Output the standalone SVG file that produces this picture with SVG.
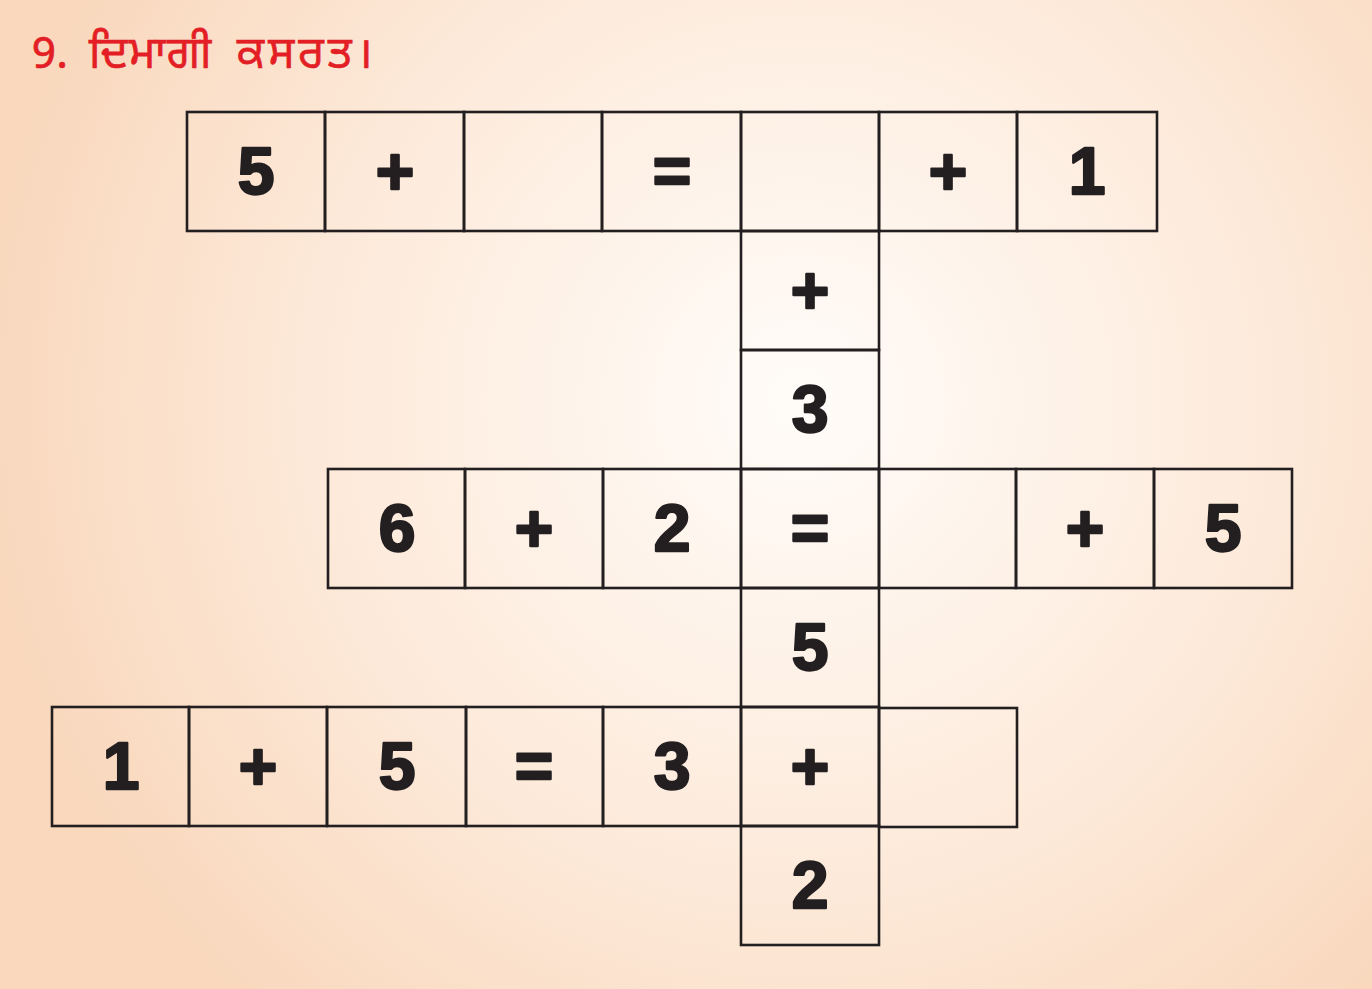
<svg xmlns="http://www.w3.org/2000/svg" width="1372" height="989" viewBox="0 0 1372 989">
<defs>
<radialGradient id="bg" cx="800" cy="400" r="820" gradientUnits="userSpaceOnUse">
<stop offset="0" stop-color="#fffcf9"/>
<stop offset="0.55" stop-color="#fdebdc"/>
<stop offset="1" stop-color="#f9d8bd"/>
</radialGradient>
<style>
.cell{fill:none;stroke:#231f20;stroke-width:2.6}
.sym{font-family:"Liberation Sans",Arial,sans-serif;font-weight:bold;font-size:66px;text-anchor:middle;fill:#231f20;stroke:#231f20;stroke-width:2.4;stroke-linejoin:round}
.title{font-family:"Noto Sans Gurmukhi","Lohit Gurmukhi","Noto Sans",sans-serif;font-size:44px;fill:#e31e25;stroke:#e31e25;stroke-width:0.7}
</style>
</defs>
<rect x="0" y="0" width="1372" height="989" fill="url(#bg)"/>
<text id="title" class="title" y="68"><tspan x="32">9.</tspan> <tspan x="89" letter-spacing="1.5">ਦਿਮਾਗੀ</tspan> <tspan x="237" letter-spacing="4">ਕਸਰਤ।</tspan></text>

<g id="row1">
<g id="r1c1"><rect class="cell" x="187" y="112" width="138" height="119"/><text class="sym" x="256" y="194">5</text></g>
<g id="r1c2"><rect class="cell" x="325" y="112" width="139" height="119"/><text class="sym" x="395" y="194">+</text></g>
<g id="r1c3"><rect class="cell" x="464" y="112" width="138" height="119"/></g>
<g id="r1c4"><rect class="cell" x="602" y="112" width="139" height="119"/><text class="sym" x="672" y="194">=</text></g>
<g id="r1c5"><rect class="cell" x="741" y="112" width="138" height="119"/></g>
<g id="r1c6"><rect class="cell" x="879" y="112" width="138" height="119"/><text class="sym" x="948" y="194">+</text></g>
<g id="r1c7"><rect class="cell" x="1017" y="112" width="140" height="119"/><text class="sym" x="1087" y="194">1</text></g>
</g>

<g id="col">
<g id="c2"><rect class="cell" x="741" y="231" width="138" height="119"/><text class="sym" x="810" y="313">+</text></g>
<g id="c3"><rect class="cell" x="741" y="350" width="138" height="119"/><text class="sym" x="810" y="432">3</text></g>
</g>

<g id="row3">
<g id="r3c1"><rect class="cell" x="328" y="469" width="137" height="119"/><text class="sym" x="397" y="551">6</text></g>
<g id="r3c2"><rect class="cell" x="465" y="469" width="138" height="119"/><text class="sym" x="534" y="551">+</text></g>
<g id="r3c3"><rect class="cell" x="603" y="469" width="138" height="119"/><text class="sym" x="672" y="551">2</text></g>
<g id="r3c4"><rect class="cell" x="741" y="469" width="138" height="119"/><text class="sym" x="810" y="551">=</text></g>
<g id="r3c5"><rect class="cell" x="879" y="469" width="137" height="119"/></g>
<g id="r3c6"><rect class="cell" x="1016" y="469" width="138" height="119"/><text class="sym" x="1085" y="551">+</text></g>
<g id="r3c7"><rect class="cell" x="1154" y="469" width="138" height="119"/><text class="sym" x="1223" y="551">5</text></g>
</g>

<g id="c4"><rect class="cell" x="741" y="588" width="138" height="119"/><text class="sym" x="810" y="670">5</text></g>

<g id="row5">
<g id="r5c1"><rect class="cell" x="52" y="707" width="137" height="119"/><text class="sym" x="121" y="789">1</text></g>
<g id="r5c2"><rect class="cell" x="189" y="707" width="138" height="119"/><text class="sym" x="258" y="789">+</text></g>
<g id="r5c3"><rect class="cell" x="327" y="707" width="139" height="119"/><text class="sym" x="397" y="789">5</text></g>
<g id="r5c4"><rect class="cell" x="466" y="707" width="137" height="119"/><text class="sym" x="534" y="789">=</text></g>
<g id="r5c5"><rect class="cell" x="603" y="707" width="138" height="119"/><text class="sym" x="672" y="789">3</text></g>
<g id="r5c6"><rect class="cell" x="741" y="707" width="138" height="119"/><text class="sym" x="810" y="789">+</text></g>
<g id="r5c7"><rect class="cell" x="879" y="708" width="138" height="119"/></g>
</g>

<g id="c6"><rect class="cell" x="741" y="826" width="138" height="119"/><text class="sym" x="810" y="908">2</text></g>
</svg>
